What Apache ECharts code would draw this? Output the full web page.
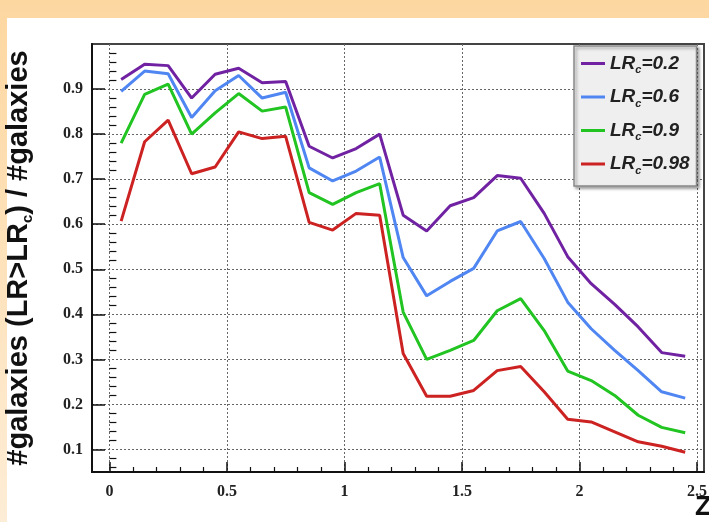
<!DOCTYPE html>
<html><head><meta charset="utf-8">
<script src="https://cdn.jsdelivr.net/npm/echarts@6/dist/echarts.min.js"></script>
<style>html,body{margin:0;padding:0;background:#fff}#c{width:709px;height:522px}</style>
</head><body><div id="c"></div><script>
const zValues=[0.05,0.15,0.25,0.35,0.45,0.55,0.65,0.75,0.85,0.95,1.05,1.15,1.25,1.35,1.45,1.55,1.65,1.75,1.85,1.95,2.05,2.15,2.25,2.35,2.45];
const lr02=[0.921,0.955,0.952,0.880,0.933,0.946,0.914,0.917,0.773,0.747,0.768,0.800,0.620,0.585,0.641,0.659,0.708,0.702,0.624,0.528,0.468,0.422,0.372,0.315,0.307];
const lr06=[0.895,0.940,0.934,0.837,0.896,0.930,0.880,0.893,0.725,0.696,0.718,0.749,0.526,0.441,0.473,0.502,0.585,0.606,0.524,0.427,0.368,0.320,0.275,0.228,0.214];
const lr09=[0.780,0.888,0.911,0.800,0.847,0.890,0.851,0.860,0.670,0.644,0.670,0.690,0.405,0.300,0.320,0.342,0.408,0.435,0.364,0.274,0.253,0.220,0.176,0.149,0.137];
const lr098=[0.607,0.783,0.831,0.712,0.727,0.805,0.790,0.795,0.604,0.587,0.624,0.620,0.313,0.218,0.218,0.231,0.275,0.284,0.228,0.167,0.161,0.139,0.117,0.107,0.094];
const seriesNames=['LR_c=0.2','LR_c=0.6','LR_c=0.9','LR_c=0.98'];
const seriesColors=['#7022a2','#4f86f2','#22c422','#cc2222'];
const xTickLabels=[0,0.5,1,1.5,2,2.5];
const yTickLabels=[0.1,0.2,0.3,0.4,0.5,0.6,0.7,0.8,0.9];
const xMinorTicks=[0.1,0.2,0.3,0.4,0.6,0.7,0.8,0.9,1.1,1.2,1.3,1.4,1.6,1.7,1.8,1.9,2.1,2.2,2.3,2.4];
const yMinorTicks=[0.06,0.08,0.12,0.14,0.16,0.18,0.22,0.24,0.26,0.28,0.32,0.34,0.36,0.38,0.42,0.44,0.46,0.48,0.52,0.54,0.56,0.58,0.62,0.64,0.66,0.68,0.72,0.74,0.76,0.78,0.82,0.84,0.86,0.88,0.92,0.94,0.96,0.98];
const allSeries=[lr02,lr06,lr09,lr098];

const chart=echarts.init(document.getElementById('c'),null,{renderer:'canvas'});
const XMIN=-0.074,XMAX=2.53,YMIN=0.05,YMAX=1.0;
const lblFont={fontFamily:'Liberation Serif',fontWeight:'bold',fontSize:16,color:'#222'};
const gridDot={show:true,lineStyle:{color:'#666',type:[2,2],width:1}};
chart.setOption({
  backgroundColor:'#fdd9a2',
  animation:false,
  graphic:[
    {type:'rect',z:-10,silent:true,shape:{x:0,y:0,width:709,height:522},style:{fill:new echarts.graphic.LinearGradient(0,0,0,1,[{offset:0,color:'#fdd7a0'},{offset:1,color:'#fdedd6'}])}},
    {type:'rect',z:-9,silent:true,shape:{x:7,y:18,width:702,height:504},style:{fill:'#ffffff'}},
    {type:'text',left:695,top:494,z:10,style:{text:'Z',font:'bold 27px "Liberation Sans"',fill:'#111'}}
  ],
  grid:{left:92,top:44,right:5,bottom:50,containLabel:false,outerBoundsMode:'none',show:true,borderColor:'#444',borderWidth:2,backgroundColor:'transparent'},
  legend:{
    orient:'vertical',left:574,top:46,width:124,
    backgroundColor:'#efefef',borderColor:'#8a8a8a',borderWidth:1.5,
    shadowColor:'rgba(0,0,0,0.35)',shadowBlur:3,shadowOffsetX:2,shadowOffsetY:2,
    padding:[8,7,10,7],itemGap:12,itemWidth:24,itemHeight:24,
    icon:'path://M0,11 L24,11 L24,14 L0,14 Z',
    data:seriesNames,
    formatter:function(n){const v=n.split('=')[1];return '{a|LR}{s|c}{a|='+v+'}';},
    textStyle:{rich:{
      a:{fontFamily:'Liberation Sans',fontStyle:'italic',fontWeight:'bold',fontSize:19,color:'#222',lineHeight:24,verticalAlign:'middle'},
      s:{fontFamily:'Liberation Sans',fontStyle:'italic',fontWeight:'bold',fontSize:11,color:'#222',lineHeight:24,verticalAlign:'bottom'}
    }}
  },
  xAxis:[
    {type:'value',min:XMIN,max:XMAX,
     axisLine:{show:true,onZero:false,lineStyle:{color:'#111',width:2}},
     axisTick:{show:true,inside:true,length:10,customValues:xTickLabels,lineStyle:{color:'#111',width:1.5}},
     axisLabel:{show:true,customValues:xTickLabels,margin:12,...lblFont,formatter:v=>String(v)},
     splitLine:gridDot},
    {type:'value',min:XMIN,max:XMAX,position:'bottom',
     axisLine:{show:false},
     axisTick:{show:true,inside:true,length:5,customValues:xMinorTicks,lineStyle:{color:'#111',width:1.2}},
     axisLabel:{show:false},splitLine:{show:false}}
  ],
  yAxis:[
    {type:'value',min:YMIN,max:YMAX,
     axisLine:{show:true,onZero:false,lineStyle:{color:'#111',width:2}},
     axisTick:{show:true,inside:true,length:13,customValues:yTickLabels,lineStyle:{color:'#111',width:1.5}},
     axisLabel:{show:true,customValues:yTickLabels,margin:9,...lblFont,formatter:v=>v.toFixed(1)},
     splitLine:gridDot,
     name:'{t|#galaxies (LR>LR}{s|c}{t|) / #galaxies}',nameLocation:'middle',nameRotate:90,nameGap:57,
     nameTextStyle:{rich:{
       t:{fontFamily:'Liberation Sans',fontWeight:'bold',fontSize:29,color:'#111',lineHeight:32,verticalAlign:'middle'},
       s:{fontFamily:'Liberation Sans',fontWeight:'bold',fontSize:15,color:'#111',lineHeight:32,verticalAlign:'bottom'}
     }}},
    {type:'value',min:YMIN,max:YMAX,position:'left',
     axisLine:{show:false},
     axisTick:{show:true,inside:true,length:7,customValues:yMinorTicks,lineStyle:{color:'#111',width:1.2}},
     axisLabel:{show:false},splitLine:{show:false}}
  ],
  series:allSeries.map((arr,i)=>({
    name:seriesNames[i],type:'line',xAxisIndex:0,yAxisIndex:0,
    data:zValues.map((z,k)=>[z,arr[k]]),
    symbol:'none',showSymbol:false,
    lineStyle:{color:seriesColors[i],width:3},itemStyle:{color:seriesColors[i]}
  }))
});
</script></body></html>
